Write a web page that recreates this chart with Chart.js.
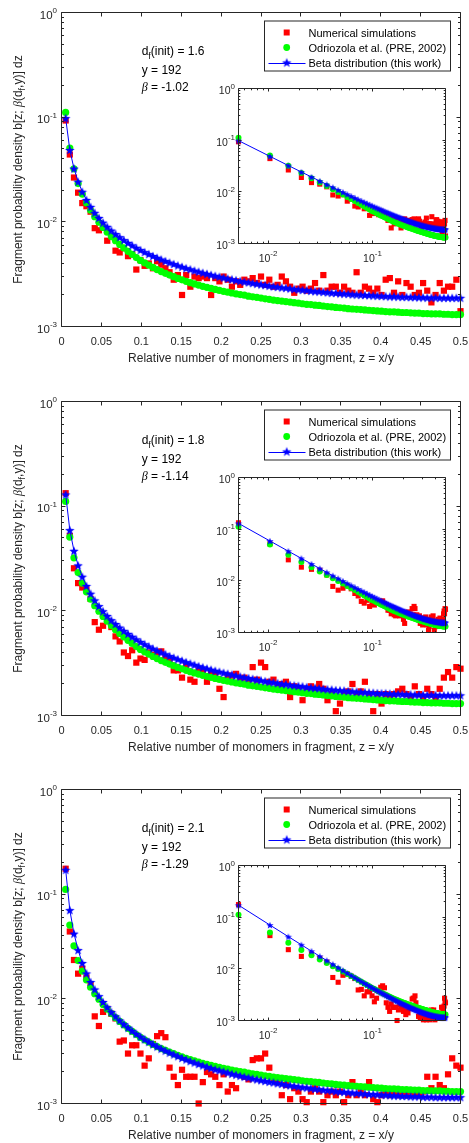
<!DOCTYPE html>
<html>
<head>
<meta charset="utf-8">
<script src="https://cdn.jsdelivr.net/npm/chart.js@4.4.1/dist/chart.umd.min.js"></script>
<style>
  html, body { margin: 0; padding: 0; background: #fff; }
  body { width: 469px; height: 1143px; overflow: hidden; position: relative; }
  .panel { position: absolute; left: 0; width: 469px; height: 389px; }
  .panel canvas { position: absolute; }
</style>
</head>
<body>
<script>
// cluster of y = 192 monomers, fragments of x monomers (z = x/y)
const clusterSize = 192;
const monomers = [1,2,3,4,5,6,7,8,9,10,11,12,13,14,15,16,17,18,19,20,21,22,23,24,25,26,27,28,29,30,
  31,32,33,34,35,36,37,38,39,40,41,42,43,44,45,46,47,48,49,50,51,52,53,54,55,56,57,58,59,60,
  61,62,63,64,65,66,67,68,69,70,71,72,73,74,75,76,77,78,79,80,81,82,83,84,85,86,87,88,89,90,
  91,92,93,94,95,96];

// Odriozola et al. (PRE, 2002) - same curve in all three panels
const odriozola = [0.1110,0.0507,0.0321,0.0232,0.0184,0.0152,0.0129,0.0112,0.00991,0.00885,
  0.00796,0.00723,0.00661,0.00608,0.00563,0.00523,0.00488,0.00456,0.00428,0.00406,
  0.00386,0.00367,0.00350,0.00335,0.00322,0.00310,0.00299,0.00288,0.00279,0.00270,
  0.00262,0.00255,0.00249,0.00242,0.00237,0.00231,0.00226,0.00221,0.00217,0.00213,
  0.00209,0.00205,0.00202,0.00199,0.00195,0.00192,0.00190,0.00187,0.00184,0.00182,
  0.00179,0.00177,0.00175,0.00173,0.00171,0.00169,0.00167,0.00165,0.00163,0.00162,
  0.00160,0.00159,0.00157,0.00155,0.00154,0.00152,0.00151,0.00150,0.00148,0.00147,
  0.00146,0.00145,0.00144,0.00143,0.00142,0.00141,0.00140,0.00139,0.00138,0.00138,
  0.00137,0.00136,0.00136,0.00135,0.00134,0.00134,0.00133,0.00133,0.00132,0.00132,
  0.00132,0.00131,0.00131,0.00130,0.00130,0.00130];

// Beta distribution (this work)
const beta16 = [0.0980,0.0486,0.0323,0.0242,0.0194,0.0162,0.0139,0.0122,0.0109,0.00983,
  0.00897,0.00826,0.00765,0.00714,0.00669,0.00630,0.00596,0.00565,0.00538,0.00514,
  0.00492,0.00472,0.00454,0.00437,0.00422,0.00408,0.00395,0.00383,0.00372,0.00361,
  0.00352,0.00342,0.00334,0.00326,0.00319,0.00312,0.00305,0.00299,0.00293,0.00287,
  0.00282,0.00277,0.00272,0.00268,0.00264,0.00260,0.00256,0.00252,0.00249,0.00245,
  0.00242,0.00239,0.00236,0.00234,0.00231,0.00228,0.00226,0.00224,0.00222,0.00219,
  0.00217,0.00216,0.00214,0.00212,0.00210,0.00209,0.00207,0.00206,0.00205,0.00203,
  0.00202,0.00201,0.00200,0.00199,0.00198,0.00197,0.00196,0.00195,0.00194,0.00194,
  0.00193,0.00192,0.00192,0.00191,0.00191,0.00190,0.00190,0.00189,0.00189,0.00189,
  0.00188,0.00188,0.00188,0.00188,0.00188,0.00188];
const beta18 = [0.1295,0.0591,0.0375,0.0272,0.0212,0.0173,0.0146,0.0126,0.0111,0.00991,
  0.00895,0.00815,0.00749,0.00693,0.00644,0.00603,0.00566,0.00534,0.00505,0.00480,
  0.00457,0.00436,0.00417,0.00400,0.00385,0.00370,0.00357,0.00345,0.00334,0.00324,
  0.00314,0.00305,0.00296,0.00289,0.00281,0.00274,0.00268,0.00262,0.00256,0.00251,
  0.00246,0.00241,0.00236,0.00232,0.00228,0.00224,0.00220,0.00217,0.00213,0.00210,
  0.00207,0.00204,0.00201,0.00199,0.00196,0.00194,0.00192,0.00190,0.00187,0.00185,
  0.00184,0.00182,0.00180,0.00178,0.00177,0.00175,0.00174,0.00173,0.00171,0.00170,
  0.00169,0.00168,0.00167,0.00166,0.00165,0.00164,0.00163,0.00163,0.00162,0.00161,
  0.00161,0.00160,0.00159,0.00159,0.00158,0.00158,0.00158,0.00157,0.00157,0.00157,
  0.00156,0.00156,0.00156,0.00156,0.00156,0.00156];
const beta21 = [0.1709,0.0704,0.0420,0.0292,0.0220,0.0175,0.0145,0.0123,0.0106,0.00933,
  0.00831,0.00748,0.00680,0.00622,0.00573,0.00531,0.00495,0.00463,0.00435,0.00410,
  0.00388,0.00368,0.00350,0.00334,0.00320,0.00306,0.00294,0.00283,0.00272,0.00263,
  0.00254,0.00246,0.00238,0.00231,0.00224,0.00218,0.00212,0.00207,0.00202,0.00197,
  0.00192,0.00188,0.00184,0.00180,0.00177,0.00173,0.00170,0.00167,0.00164,0.00161,
  0.00159,0.00156,0.00154,0.00151,0.00149,0.00147,0.00145,0.00143,0.00142,0.00140,
  0.00138,0.00137,0.00135,0.00134,0.00133,0.00131,0.00130,0.00129,0.00128,0.00127,
  0.00126,0.00125,0.00124,0.00123,0.00123,0.00122,0.00121,0.00121,0.00120,0.00119,
  0.00119,0.00118,0.00118,0.00117,0.00117,0.00117,0.00116,0.00116,0.00116,0.00115,
  0.00115,0.00115,0.00115,0.00115,0.00115,0.00115];

// numerical simulations
const sim16 = [0.093,0.044,0.0265,0.019,0.0151,0.0141,0.0125,0.0087,0.0083,0.0088,
  0.0066,0.0072,0.0053,0.0051,0.0056,0.0047,0.0049,0.0035,0.0043,0.0038,
  0.0040,0.0036,0.0042,0.0039,0.0036,0.0033,0.0028,0.0031,0.0020,0.0031,
  0.0024,0.0030,0.0029,0.0030,0.0029,0.0020,0.0029,0.0027,0.0030,0.0028,
  0.0024,0.0027,0.0025,0.0028,0.0027,0.0029,0.0026,0.0030,0.0025,0.0028,
  0.0024,0.0025,0.0030,0.0027,0.0024,0.0021,0.0023,0.0024,0.0022,0.0023,
  0.0026,0.0022,0.0031,0.0022,0.0024,0.0024,0.0021,0.0024,0.0022,0.0021,
  0.0033,0.0021,0.0024,0.0023,0.0021,0.0023,0.0020,0.0028,0.0029,0.0021,
  0.0027,0.0020,0.0026,0.0024,0.0020,0.0021,0.0026,0.0022,0.0017,0.0020,
  0.0026,0.0022,0.0024,0.0024,0.0028,0.0014];
const sim18 = [0.133,0.052,0.0255,0.0184,0.0167,0.016,0.013,0.0078,0.0066,0.0072,
  0.0080,0.0070,0.0057,0.0051,0.0040,0.0037,0.0042,0.0032,0.0035,0.0034,
  0.0040,0.0038,0.0040,0.0041,0.0036,0.0034,0.0027,0.0027,0.0023,0.0030,
  0.0022,0.0021,0.0027,0.0026,0.0021,0.0025,0.0025,0.0018,0.0015,0.0024,
  0.0024,0.0025,0.0022,0.0023,0.0021,0.0029,0.0022,0.0032,0.0029,0.0021,
  0.0022,0.0019,0.0020,0.0021,0.0015,0.0019,0.0018,0.0014,0.0018,0.0019,
  0.0017,0.0020,0.0018,0.0014,0.0016,0.0011,0.0013,0.0016,0.0017,0.0020,
  0.0016,0.0017,0.0021,0.0016,0.0011,0.0016,0.0013,0.0016,0.0015,0.0016,
  0.0017,0.0018,0.0016,0.0015,0.0019,0.0016,0.0015,0.0018,0.0016,0.0015,
  0.0018,0.0023,0.0026,0.0023,0.0029,0.0028];
const sim21 = [0.175,0.044,0.0235,0.0174,0.0194,0.016,0.0135,0.0068,0.0055,0.0075,
  0.0080,0.0072,0.0065,0.0039,0.0040,0.0030,0.0036,0.0036,0.0030,0.0023,
  0.0027,0.0037,0.0044,0.0047,0.0043,0.0022,0.0018,0.0015,0.0021,0.0018,
  0.0018,0.0018,0.0010,0.0016,0.0020,0.0019,0.0018,0.0015,0.0019,0.0013,
  0.0015,0.0014,0.0019,0.0018,0.0017,0.0026,0.0027,0.0027,0.0030,0.0022,
  0.0017,0.0016,0.0012,0.0015,0.0011,0.0014,0.0013,0.0011,0.00103,0.0013,
  0.0014,0.0013,0.00103,0.0012,0.0013,0.0012,0.0013,0.00103,0.0012,0.0016,
  0.0012,0.0013,0.0012,0.0016,0.0011,0.00103,0.0012,0.0013,0.0012,0.0013,
  0.0012,0.0013,0.0012,0.0013,0.0012,0.0012,0.0013,0.0018,0.0014,0.0018,
  0.0015,0.0014,0.0019,0.0027,0.0023,0.0022];

const dfInit = ['1.6', '1.8', '2.1'];
const betaText = ['-1.02', '-1.14', '-1.29'];
const simSets = [sim16, sim18, sim21];
const fitSets = [beta16, beta18, beta21];
const panelTops = [0, 389, 777];

const xTickLabels = ['0', '0.05', '0.1', '0.15', '0.2', '0.25', '0.3', '0.35', '0.4', '0.45', '0.5'];
const yDecades = [0, -1, -2, -3];
const insetXDecades = [-2, -1];
const legendLabels = ['Numerical simulations', 'Odriozola et al. (PRE, 2002)', 'Beta distribution (this work)'];

const AXIS = '#262626';
const SANS = '"Liberation Sans", Arial, Helvetica, sans-serif';
const SERIF = '"Liberation Serif", "DejaVu Serif", serif';

function starMarker(r) {
  const c = document.createElement('canvas');
  const s = Math.ceil(r * 2 + 2);
  c.width = s; c.height = s;
  const g = c.getContext('2d');
  g.fillStyle = '#0000ff';
  g.beginPath();
  for (let k = 0; k < 10; k++) {
    const rad = k % 2 ? r * 0.42 : r;
    const ang = -Math.PI / 2 + k * Math.PI / 5;
    g.lineTo(s / 2 + rad * Math.cos(ang), s / 2 + 0.5 + rad * Math.sin(ang));
  }
  g.closePath();
  g.fill();
  return c;
}
const starBig = starMarker(5);
const starSmall = starMarker(3.8);

const snap = v => Math.round(v - 0.5) + 0.5;

function drawPow(ctx, x, baseY, exp, align, size, rise) {
  const big = `${size}px ${SANS}`, small = `${Math.round(size * 0.73)}px ${SANS}`;
  ctx.font = big; const wb = ctx.measureText('10').width;
  ctx.font = small; const we = ctx.measureText(exp).width;
  const x0 = align === 'right' ? x - wb - we : x - (wb + we) / 2;
  ctx.textAlign = 'left';
  ctx.font = big; ctx.fillText('10', x0, baseY);
  ctx.font = small; ctx.fillText(exp, x0 + wb, baseY - rise);
}

function runsWidth(ctx, runs) {
  return runs.reduce((w, r) => { ctx.font = r[1]; return w + ctx.measureText(r[0]).width; }, 0);
}
function drawRuns(ctx, x, y, runs) {
  ctx.textAlign = 'left';
  let cx = x;
  runs.forEach(([t, f, dy]) => {
    ctx.font = f;
    ctx.fillText(t, cx, y + (dy || 0));
    cx += ctx.measureText(t).width;
  });
}

function drawLegend(ctx, top) {
  const L = 264.5, R = 450.5, T = top + 8.5, B = top + 58.5;
  ctx.fillStyle = '#fff';
  ctx.fillRect(L, T, R - L, B - T);
  ctx.strokeStyle = AXIS; ctx.lineWidth = 1;
  ctx.strokeRect(L, T, R - L, B - T);
  const mx = 286.7, rows = [top + 20, top + 35, top + 50];
  ctx.fillStyle = '#ff0000';
  ctx.fillRect(mx - 3, rows[0] - 3, 6, 6);
  ctx.fillStyle = '#00ff00';
  ctx.beginPath(); ctx.arc(mx, rows[1], 3.4, 0, Math.PI * 2); ctx.fill();
  ctx.strokeStyle = '#0000ff';
  ctx.beginPath(); ctx.moveTo(268.5, Math.round(rows[2]) + 0.5); ctx.lineTo(305.5, Math.round(rows[2]) + 0.5); ctx.stroke();
  ctx.drawImage(starBig, mx - starBig.width / 2, rows[2] - starBig.height / 2);
  ctx.fillStyle = '#000';
  ctx.font = `11px ${SANS}`;
  ctx.textAlign = 'left';
  legendLabels.forEach((t, n) => ctx.fillText(t, 308.5, rows[n] + 4));
}

// box, ticks, labels, titles, text and legend of a main panel
const mainFrame = {
  id: 'mainFrame',
  afterDatasetsDraw(chart, args, opts) {
    const { ctx, chartArea: a, scales: { x, y } } = chart;
    const k = opts.panel;
    ctx.save();
    ctx.strokeStyle = AXIS; ctx.lineWidth = 1;
    ctx.beginPath();
    ctx.rect(a.left, a.top, a.right - a.left, a.bottom - a.top);
    xTickLabels.forEach(lab => {
      const px = snap(x.getPixelForValue(parseFloat(lab)));
      ctx.moveTo(px, a.bottom); ctx.lineTo(px, a.bottom - 4);
      ctx.moveTo(px, a.top); ctx.lineTo(px, a.top + 4);
    });
    yDecades.forEach((d, n) => {
      const py = snap(y.getPixelForValue(Math.pow(10, d)));
      ctx.moveTo(a.left, py); ctx.lineTo(a.left + 4, py);
      ctx.moveTo(a.right, py); ctx.lineTo(a.right - 4, py);
      if (n < yDecades.length - 1) {
        for (let m = 2; m < 10; m++) {
          const pm = snap(y.getPixelForValue(m * Math.pow(10, d - 1)));
          ctx.moveTo(a.left, pm); ctx.lineTo(a.left + 2.5, pm);
          ctx.moveTo(a.right, pm); ctx.lineTo(a.right - 2.5, pm);
        }
      }
    });
    ctx.stroke();

    ctx.fillStyle = AXIS;
    ctx.font = `11px ${SANS}`;
    ctx.textAlign = 'center';
    ctx.textBaseline = 'alphabetic';
    xTickLabels.forEach(lab => ctx.fillText(lab, x.getPixelForValue(parseFloat(lab)), a.bottom + 18));
    yDecades.forEach(d => drawPow(ctx, a.left - 4.5, y.getPixelForValue(Math.pow(10, d)) + 6, String(d), 'right', 11.5, 5.5));

    // x title
    ctx.font = `12px ${SANS}`;
    ctx.textAlign = 'center';
    ctx.fillText('Relative number of monomers in fragment, z = x/y', (a.left + a.right) / 2, a.bottom + 35);

    // y title
    const f12 = `12px ${SANS}`, f9 = `9px ${SANS}`, b12 = `italic 12px ${SERIF}`;
    const yRuns = [['Fragment probability density b[z; ', f12, 0], ['β', b12, 0], ['(d', f12, 0], ['f', f9, 3], [',y)] dz', f12, 0]];
    ctx.save();
    ctx.translate(18, (a.top + a.bottom) / 2);
    ctx.rotate(-Math.PI / 2);
    drawRuns(ctx, -runsWidth(ctx, yRuns) / 2, 4, yRuns);
    ctx.restore();

    // parameters
    ctx.fillStyle = '#000';
    drawRuns(ctx, 141.7, a.top + 42.5, [['d', f12, 0], ['f', `8.5px ${SANS}`, 4], ['(init) = ' + dfInit[k], f12, 0]]);
    drawRuns(ctx, 141.7, a.top + 61.5, [['y = ' + clusterSize, f12, 0]]);
    drawRuns(ctx, 141.7, a.top + 78, [['β', b12, 0], [' = ' + betaText[k], f12, 0]]);

    drawLegend(ctx, a.top);
    ctx.restore();
  }
};

// white box, ticks and labels of an inset
const insetFrame = {
  id: 'insetFrame',
  beforeDatasetsDraw(chart) {
    const { ctx, chartArea: a } = chart;
    ctx.save();
    ctx.fillStyle = '#fff';
    ctx.fillRect(a.left, a.top, a.right - a.left, a.bottom - a.top);
    ctx.restore();
  },
  afterDatasetsDraw(chart) {
    const { ctx, chartArea: a, scales: { x, y } } = chart;
    ctx.save();
    ctx.strokeStyle = AXIS; ctx.lineWidth = 1;
    ctx.beginPath();
    ctx.rect(a.left, a.top, a.right - a.left, a.bottom - a.top);
    yDecades.forEach((d, n) => {
      const py = snap(y.getPixelForValue(Math.pow(10, d)));
      ctx.moveTo(a.left, py); ctx.lineTo(a.left + 3, py);
      ctx.moveTo(a.right, py); ctx.lineTo(a.right - 3, py);
      if (n < yDecades.length - 1) {
        for (let m = 2; m < 10; m++) {
          const pm = snap(y.getPixelForValue(m * Math.pow(10, d - 1)));
          ctx.moveTo(a.left, pm); ctx.lineTo(a.left + 1.8, pm);
          ctx.moveTo(a.right, pm); ctx.lineTo(a.right - 1.8, pm);
        }
      }
    });
    for (let d = -3; d <= -1; d++) {
      for (let m = 1; m < 10; m++) {
        const v = m * Math.pow(10, d);
        if (v <= x.min || v >= x.max) continue;
        const len = m === 1 ? 3 : 1.8;
        const px = snap(x.getPixelForValue(v));
        ctx.moveTo(px, a.bottom); ctx.lineTo(px, a.bottom - len);
        ctx.moveTo(px, a.top); ctx.lineTo(px, a.top + len);
      }
    }
    ctx.stroke();
    ctx.fillStyle = AXIS;
    ctx.textBaseline = 'alphabetic';
    yDecades.forEach(d => drawPow(ctx, a.left - 3.5, y.getPixelForValue(Math.pow(10, d)) + 5.5, String(d), 'right', 10.5, 5.5));
    insetXDecades.forEach(d => drawPow(ctx, x.getPixelForValue(Math.pow(10, d)), a.bottom + 18, String(d), 'center', 10.5, 6));
    ctx.restore();
  }
};

function toPoints(values) {
  return monomers.map((m, i) => ({ x: m / clusterSize, y: values[i] }));
}

function buildDatasets(sim, fit, small) {
  return [
    { label: legendLabels[0], data: toPoints(sim), showLine: false, pointStyle: 'rect',
      pointRadius: small ? 3.6 : 4.4, backgroundColor: '#ff0000', borderColor: '#ff0000',
      pointBorderWidth: 0, order: 3, clip: false },
    { label: legendLabels[1], data: toPoints(odriozola), showLine: false, pointStyle: 'circle',
      pointRadius: small ? 3.0 : 3.6, backgroundColor: '#00ff00', borderColor: '#00ff00',
      pointBorderWidth: 0, order: 2, clip: false },
    { label: legendLabels[2], data: toPoints(fit), showLine: true, pointStyle: small ? starSmall : starBig,
      pointRadius: 4, borderColor: '#0000ff', backgroundColor: '#0000ff', borderWidth: 1,
      tension: 0, order: 1, clip: false }
  ];
}

function makeCanvas(parent, left, top, w, h) {
  const c = document.createElement('canvas');
  c.width = w; c.height = h;
  c.style.left = left + 'px'; c.style.top = top + 'px';
  c.style.width = w + 'px'; c.style.height = h + 'px';
  parent.appendChild(c);
  return c;
}

panelTops.forEach((top, k) => {
  const panel = document.createElement('div');
  panel.className = 'panel';
  panel.style.top = top + 'px';
  document.body.appendChild(panel);

  const main = makeCanvas(panel, 0, 0, 469, 389);
  new Chart(main, {
    type: 'scatter',
    data: { datasets: buildDatasets(simSets[k], fitSets[k], false) },
    options: {
      responsive: false, animation: false, events: [],
      layout: { padding: { left: 61.5, right: 8.5, top: 12.5, bottom: 62.5 } },
      scales: {
        x: { type: 'linear', min: 0, max: 0.5, display: false },
        y: { type: 'logarithmic', min: 0.001, max: 1, display: false }
      },
      plugins: { legend: { display: false }, tooltip: { enabled: false }, mainFrame: { panel: k } }
    },
    plugins: [mainFrame]
  });

  const inset = makeCanvas(panel, 200, 72, 260, 200);
  new Chart(inset, {
    type: 'scatter',
    data: { datasets: buildDatasets(simSets[k], fitSets[k], true) },
    options: {
      responsive: false, animation: false, events: [],
      layout: { padding: { left: 38.5, right: 14.5, top: 16.5, bottom: 28.5 } },
      scales: {
        x: { type: 'logarithmic', min: monomers[0] / clusterSize, max: 0.5, display: false },
        y: { type: 'logarithmic', min: 0.001, max: 1, display: false }
      },
      plugins: { legend: { display: false }, tooltip: { enabled: false } }
    },
    plugins: [insetFrame]
  });
});
</script>
</body>
</html>
